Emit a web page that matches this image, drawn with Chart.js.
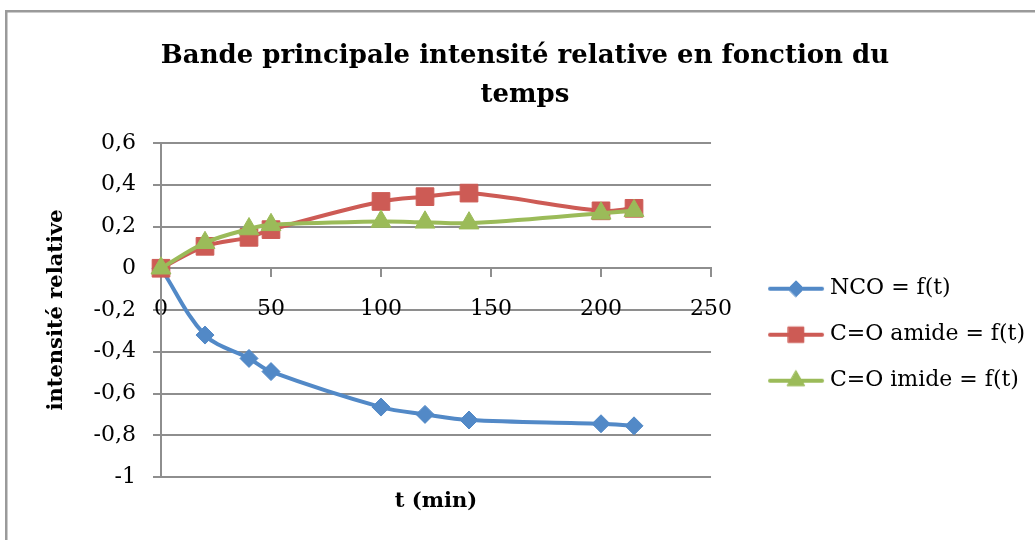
<!DOCTYPE html>
<html lang="fr">
<head>
<meta charset="utf-8">
<title>Bande principale intensité relative en fonction du temps</title>
<script src="https://cdn.jsdelivr.net/npm/chart.js@4.4.1/dist/chart.umd.min.js"></script>
<style>
  html, body { margin: 0; padding: 0; background: #ffffff; }
  #wrap { width: 1035px; height: 540px; }
</style>
</head>
<body>
<div id="wrap"><canvas id="chart" width="1035" height="540"></canvas></div>
<script>
const TITLE_LINES = ["Bande principale intensité relative en fonction du", "temps"];
const X_TITLE = "t (min)";
const Y_TITLE = "intensité relative";
const SERIES_LABELS = ["NCO = f(t)", "C=O amide = f(t)", "C=O imide = f(t)"];

const TIMES = [0, 20, 40, 50, 100, 120, 140, 200, 215];
const NCO_VALUES = [0, -0.32, -0.432, -0.495, -0.665, -0.70, -0.727, -0.745, -0.755];
const AMIDE_VALUES = [0, 0.105, 0.148, 0.185, 0.32, 0.343, 0.36, 0.275, 0.287];
const IMIDE_VALUES = [0, 0.122, 0.188, 0.208, 0.224, 0.22, 0.216, 0.263, 0.275];

const X_TICKS = [0, 50, 100, 150, 200, 250];
const Y_TICKS = [-1, -0.8, -0.6, -0.4, -0.2, 0, 0.2, 0.4, 0.6];

const SERIF = "'DejaVu Serif', 'Liberation Serif', serif";
const GRID = "#8e8e8e";
const BLUE = "#5289c7";
const RED = "#cd5b55";
const GREEN = "#9bbb59";

function formatTick(value) {
  const rounded = Math.round(value * 10) / 10;
  return String(rounded).replace(".", ",");
}

function makeLegendIcon(color, pointStyle, radius) {
  const icon = document.createElement("canvas");
  icon.width = 100;
  icon.height = 30;
  const ctx = icon.getContext("2d");
  ctx.strokeStyle = color;
  ctx.fillStyle = color;
  ctx.lineWidth = 4;
  ctx.lineCap = "round";
  ctx.beginPath();
  ctx.moveTo(43, 15);
  ctx.lineTo(95, 15);
  ctx.stroke();
  ctx.lineWidth = 1;
  Chart.helpers.drawPoint(ctx, { pointStyle, radius, borderWidth: 1, rotation: 0 }, 69, 15);
  return icon;
}

function toPoints(values) {
  return TIMES.map((t, i) => ({ x: t, y: values[i] }));
}

function buildSeries(label, values, color, pointStyle, radius, order) {
  return {
    label,
    data: toPoints(values),
    showLine: true,
    borderColor: color,
    backgroundColor: color,
    borderWidth: 4,
    tension: 0.35,
    pointStyle,
    pointRadius: radius,
    pointHoverRadius: radius,
    pointBorderWidth: 1,
    pointBorderColor: color,
    pointBackgroundColor: color,
    order,
    clip: false
  };
}

const framePlugin = {
  id: "frame",
  beforeDraw(chart) {
    const { ctx, width, height } = chart;
    ctx.save();
    ctx.fillStyle = "#ffffff";
    ctx.fillRect(0, 0, width, height);
    ctx.fillStyle = "#9a9a9a";
    ctx.fillRect(5, 10, 2.5, height - 10);
    ctx.fillRect(5, 10, width - 5, 2.5);
    ctx.restore();
  }
};

const xTitlePlugin = {
  id: "xTitle",
  afterDraw(chart) {
    const { ctx, chartArea } = chart;
    ctx.save();
    ctx.fillStyle = "#000000";
    ctx.font = `bold 21px ${SERIF}`;
    ctx.textAlign = "center";
    ctx.textBaseline = "middle";
    ctx.fillText(X_TITLE, (chartArea.left + chartArea.right) / 2, 502);
    ctx.restore();
  }
};

function initChart() {
  const legendIcons = [
    makeLegendIcon(BLUE, "rectRot", 8),
    makeLegendIcon(RED, "rect", 11),
    makeLegendIcon(GREEN, "triangle", 10)
  ];

  new Chart(document.getElementById("chart"), {
    type: "scatter",
    data: {
      datasets: [
        buildSeries(SERIES_LABELS[0], NCO_VALUES, BLUE, "rectRot", 9, 3),
        buildSeries(SERIES_LABELS[1], AMIDE_VALUES, RED, "rect", 12.5, 2),
        buildSeries(SERIES_LABELS[2], IMIDE_VALUES, GREEN, "triangle", 11.5, 1)
      ]
    },
    options: {
      responsive: false,
      animation: false,
      devicePixelRatio: 1,
      layout: { padding: { left: 15, right: 0, top: 12, bottom: 63 } },
      scales: {
        x: {
          type: "linear",
          min: X_TICKS[0],
          max: X_TICKS[X_TICKS.length - 1],
          position: { y: 0 },
          afterBuildTicks(scale) {
            scale.ticks = X_TICKS.map((value) => ({ value }));
          },
          grid: { drawOnChartArea: false, tickLength: 8, color: GRID, lineWidth: 2 },
          border: { color: GRID, width: 2 },
          ticks: {
            color: "#000000",
            font: { family: SERIF, size: 22 },
            padding: 20,
            maxRotation: 0,
            autoSkip: false
          }
        },
        y: {
          min: Y_TICKS[0],
          max: Y_TICKS[Y_TICKS.length - 1],
          afterBuildTicks(scale) {
            scale.ticks = Y_TICKS.map((value) => ({ value }));
          },
          afterFit(scale) {
            scale.width = 146;
          },
          grid: { color: GRID, lineWidth: 2, tickLength: 8 },
          border: { color: GRID, width: 2 },
          ticks: {
            color: "#000000",
            font: { family: SERIF, size: 22 },
            padding: 17,
            autoSkip: false,
            callback: (value) => formatTick(value)
          },
          title: {
            display: true,
            text: Y_TITLE,
            color: "#000000",
            font: { family: SERIF, size: 21, weight: "bold" },
            padding: { top: 29, bottom: 0 }
          }
        }
      },
      plugins: {
        title: {
          display: true,
          text: TITLE_LINES,
          color: "#000000",
          font: { family: SERIF, size: 26, weight: "bold", lineHeight: 1.5 },
          padding: { top: 25, bottom: 28 }
        },
        legend: {
          position: "right",
          reverse: true,
          maxWidth: 330,
          title: { display: true, text: "", padding: { top: 166, bottom: 0 } },
          labels: {
            usePointStyle: true,
            pointStyleWidth: 84,
            padding: 24,
            color: "#000000",
            font: { family: SERIF, size: 22 },
            generateLabels(chart) {
              const items = Chart.defaults.plugins.legend.labels.generateLabels(chart);
              return items.map((item) => ({ ...item, pointStyle: legendIcons[item.datasetIndex] }));
            }
          }
        },
        tooltip: { enabled: false }
      }
    },
    plugins: [framePlugin, xTitlePlugin]
  });
}

document.addEventListener("DOMContentLoaded", initChart);
</script>
</body>
</html>
